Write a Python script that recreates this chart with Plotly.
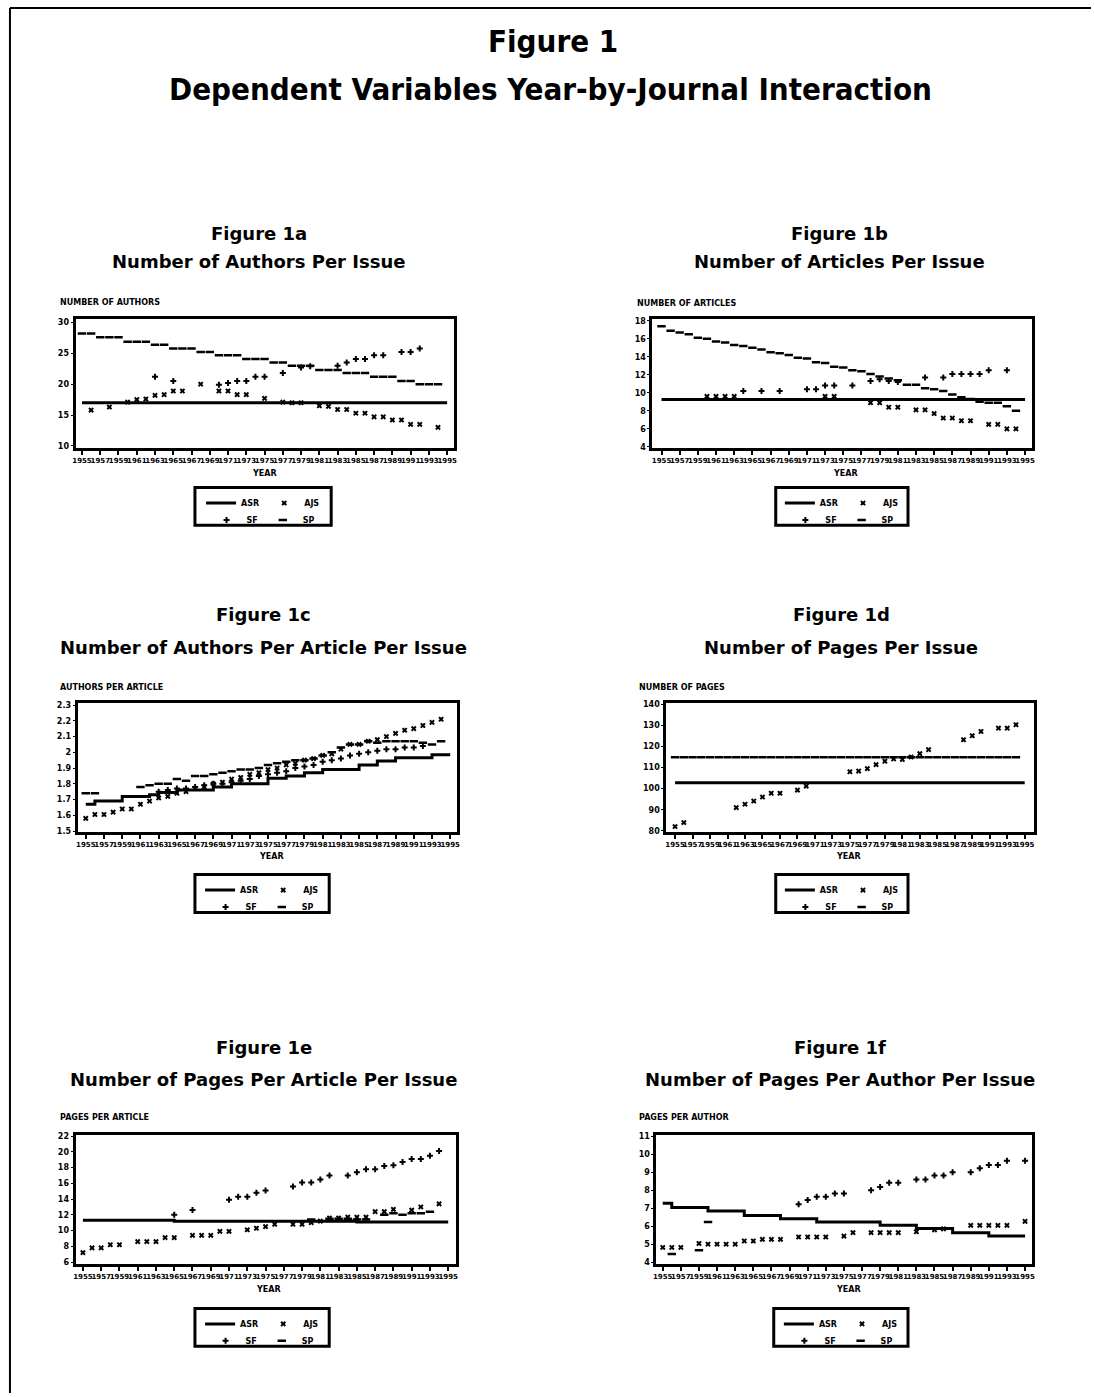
import plotly.graph_objects as go

# ---------------- data ----------------
N = None
YEARS = list(range(1955, 1996))
X_TICKS = list(range(1955, 1996, 2))
X_TICK_TEXT = [str(v) for v in X_TICKS]
JOURNALS = ["ASR", "AJS", "SF", "SP"]

FIG_TITLE = "Figure 1"
FIG_SUBTITLE = "Dependent Variables Year-by-Journal Interaction"
PANEL_LABELS = ["Figure 1a", "Figure 1b", "Figure 1c", "Figure 1d", "Figure 1e", "Figure 1f"]
PANEL_TITLES = ["Number of Authors Per Issue", "Number of Articles Per Issue",
                "Number of Authors Per Article Per Issue", "Number of Pages Per Issue",
                "Number of Pages Per Article Per Issue", "Number of Pages Per Author Per Issue"]
Y_LABELS = ["NUMBER OF AUTHORS", "NUMBER OF ARTICLES", "AUTHORS PER ARTICLE",
            "NUMBER OF PAGES", "PAGES PER ARTICLE", "PAGES PER AUTHOR"]
X_LABEL = "YEAR"

Y_TICKS_A = [10, 15, 20, 25, 30]
Y_TICKS_B = [4, 6, 8, 10, 12, 14, 16, 18]
Y_TICKS_C = [1.5, 1.6, 1.7, 1.8, 1.9, 2.0, 2.1, 2.2, 2.3]
Y_TICKS_D = [80, 90, 100, 110, 120, 130, 140]
Y_TICKS_E = [6, 8, 10, 12, 14, 16, 18, 20, 22]
Y_TICKS_F = [4, 5, 6, 7, 8, 9, 10, 11]

# Figure 1a - authors per issue (1955..1995)
A_J1 = [17.0, 17.0, 17.0, 17.0, 17.0, 17.0, 17.0, 17.0, 17.0, 17.0,
        17.0, 17.0, 17.0, 17.0, 17.0, 17.0, 17.0, 17.0, 17.0, 17.0,
        17.0, 17.0, 17.0, 17.0, 17.0, 17.0, 17.0, 17.0, 17.0, 17.0,
        17.0, 17.0, 17.0, 17.0, 17.0, 17.0, 17.0, 17.0, 17.0, 17.0, 17.0]
A_J2 = [N, 15.8, N, 16.3, N, 17.1, 17.5, 17.6, 18.2, 18.3,
        18.9, 18.9, N, 20.0, N, 18.9, 18.9, 18.3, 18.3, N,
        17.7, N, 17.1, 17.0, 17.0, N, 16.5, 16.4, 15.9, 15.9,
        15.3, 15.3, 14.7, 14.7, 14.2, 14.2, 13.5, 13.5, N, 13.0, N]
A_J3 = [N, N, N, N, N, N, N, N, 21.2, N,
        20.5, N, N, N, N, 19.9, 20.2, 20.5, 20.5, 21.2,
        21.2, N, 21.8, N, 22.7, 22.9, N, N, 23.0, 23.5,
        24.1, 24.1, 24.7, 24.7, N, 25.2, 25.2, 25.8, N, N, N]
A_J4 = [28.2, 28.2, 27.6, 27.6, 27.6, 26.9, 26.9, 26.9, 26.4, 26.4,
        25.8, 25.8, 25.8, 25.2, 25.2, 24.7, 24.7, 24.7, 24.1, 24.1,
        24.1, 23.5, 23.5, 23.0, 23.0, 23.0, 22.3, 22.3, 22.3, 21.8,
        21.8, 21.8, 21.2, 21.2, 21.2, 20.5, 20.5, 20.0, 20.0, 20.0, N]

# Figure 1b - articles per issue
B_J1 = [9.25, 9.25, 9.25, 9.25, 9.25, 9.25, 9.25, 9.25, 9.25, 9.25,
        9.25, 9.25, 9.25, 9.25, 9.25, 9.25, 9.25, 9.25, 9.25, 9.25,
        9.25, 9.25, 9.25, 9.25, 9.25, 9.25, 9.25, 9.25, 9.25, 9.25,
        9.25, 9.25, 9.25, 9.25, 9.25, 9.25, 9.25, 9.25, 9.25, 9.25, 9.25]
B_J2 = [N, N, N, N, N, 9.6, 9.6, 9.6, 9.6, N,
        N, N, N, N, N, N, N, N, 9.6, 9.6,
        N, N, N, 8.9, 8.9, 8.4, 8.4, N, 8.1, 8.1,
        7.7, 7.2, 7.2, 6.9, 6.9, N, 6.5, 6.5, 6.0, 6.0, N]
B_J3 = [N, N, N, N, N, N, N, N, N, 10.2,
        N, 10.2, N, 10.2, N, N, 10.4, 10.4, 10.8, 10.8,
        N, 10.8, N, 11.3, 11.5, 11.3, 11.2, N, N, 11.7,
        N, 11.7, 12.1, 12.1, 12.1, 12.1, 12.5, N, 12.5, N, N]
B_J4 = [17.4, 16.9, 16.7, 16.5, 16.1, 16.0, 15.7, 15.6, 15.3, 15.2,
        15.0, 14.8, 14.5, 14.4, 14.2, 13.9, 13.8, 13.4, 13.3, 12.9,
        12.8, 12.5, 12.4, 12.1, 11.8, 11.6, 11.4, 10.9, 10.9, 10.5,
        10.4, 10.2, 9.8, 9.5, 9.3, 9.0, 8.9, 8.9, 8.5, 8.0, N]

# Figure 1c - authors per article per issue
C_J1 = [1.67, 1.69, 1.69, 1.69, 1.72, 1.72, 1.72, 1.73, 1.745, 1.745,
        1.76, 1.76, 1.76, 1.76, 1.78, 1.78, 1.80, 1.80, 1.80, 1.80,
        1.835, 1.835, 1.85, 1.85, 1.87, 1.87, 1.89, 1.89, 1.89, 1.89,
        1.92, 1.92, 1.945, 1.945, 1.965, 1.965, 1.965, 1.965, 1.985, 1.985, 1.985]
C_J2 = [1.58, 1.605, 1.605, 1.62, 1.64, 1.64, 1.67, 1.69, 1.71, 1.72,
        1.74, 1.75, 1.77, 1.78, 1.80, 1.81, 1.83, 1.84, 1.86, 1.87,
        1.89, 1.90, 1.92, 1.93, 1.95, 1.96, 1.98, 1.99, 2.02, 2.05,
        2.05, 2.07, 2.08, 2.10, 2.12, 2.14, 2.15, 2.17, 2.19, 2.21, N]
C_J3 = [N, N, N, N, N, N, N, N, 1.75, 1.76,
        1.77, 1.77, 1.78, 1.79, 1.80, 1.80, 1.81, 1.82, 1.83, 1.85,
        1.86, 1.87, 1.88, 1.90, 1.91, 1.92, 1.94, 1.95, 1.96, 1.98,
        1.99, 2.00, 2.01, 2.02, 2.02, 2.03, 2.03, 2.04, N, N, N]
C_J4 = [1.74, 1.74, N, N, N, N, 1.78, 1.79, 1.80, 1.80,
        1.83, 1.82, 1.85, 1.85, 1.86, 1.87, 1.88, 1.89, 1.89, 1.90,
        1.92, 1.93, 1.94, 1.95, 1.95, 1.96, 1.98, 2.00, 2.03, 2.05,
        2.05, 2.07, 2.06, 2.07, 2.07, 2.07, 2.07, 2.06, 2.05, 2.07, N]

# Figure 1d - pages per issue
D_J1 = [102.8, 102.8, 102.8, 102.8, 102.8, 102.8, 102.8, 102.8, 102.8, 102.8,
        102.8, 102.8, 102.8, 102.8, 102.8, 102.8, 102.8, 102.8, 102.8, 102.8,
        102.8, 102.8, 102.8, 102.8, 102.8, 102.8, 102.8, 102.8, 102.8, 102.8,
        102.8, 102.8, 102.8, 102.8, 102.8, 102.8, 102.8, 102.8, 102.8, 102.8, 102.8]
D_J2 = [82.0, 83.9, N, N, N, N, N, 91.0, 92.6, 94.1,
        96.0, 97.8, 97.8, N, 99.3, 101.2, N, N, N, N,
        108.0, 108.3, 109.5, 111.4, 113.0, 114.1, 113.8, 115.0, 116.6, 118.5,
        N, N, N, 123.2, 125.1, 127.1, N, 128.7, 128.7, 130.3, N]
D_J3 = [N, N, N, N, N, N, N, N, N, N,
        N, N, N, N, N, N, N, N, N, N,
        N, N, N, N, N, N, N, N, N, N,
        N, N, N, N, N, N, N, N, N, N, N]
D_J4 = [114.9, 114.9, 114.9, 114.9, 114.9, 114.9, 114.9, 114.9, 114.9, 114.9,
        114.9, 114.9, 114.9, 114.9, 114.9, 114.9, 114.9, 114.9, 114.9, 114.9,
        114.9, 114.9, 114.9, 114.9, 114.9, 114.9, 114.9, 114.9, 114.9, 114.9,
        114.9, 114.9, 114.9, 114.9, 114.9, 114.9, 114.9, 114.9, 114.9, 114.9, N]

# Figure 1e - pages per article per issue
E_J1 = [11.3, 11.3, 11.3, 11.3, 11.3, 11.3, 11.3, 11.3, 11.3, 11.3,
        11.2, 11.2, 11.2, 11.2, 11.2, 11.2, 11.2, 11.2, 11.2, 11.2,
        11.2, 11.2, 11.2, 11.2, 11.2, 11.2, 11.2, 11.2, 11.2, 11.2,
        11.1, 11.1, 11.1, 11.1, 11.1, 11.1, 11.1, 11.1, 11.1, 11.1, 11.1]
E_J2 = [7.2, 7.8, 7.8, 8.2, 8.2, N, 8.6, 8.6, 8.6, 9.1,
        9.1, N, 9.4, 9.4, 9.4, 9.9, 9.9, N, 10.1, 10.3,
        10.5, 10.8, N, 10.8, 10.8, 11.0, 11.2, 11.6, 11.6, 11.7,
        11.7, 11.7, 12.4, 12.4, 12.7, N, 12.6, 13.0, N, 13.4, N]
E_J3 = [N, N, N, N, N, N, N, N, N, N,
        12.0, N, 12.6, N, N, N, 13.9, 14.3, 14.3, 14.8,
        15.1, N, N, 15.6, 16.1, 16.1, 16.5, 17.0, N, 17.0,
        17.4, 17.8, 17.8, 18.2, 18.3, 18.7, 19.1, 19.1, 19.5, 20.1, N]
E_J4 = [N, N, N, N, N, N, N, N, N, N,
        N, N, N, N, N, N, N, N, N, N,
        N, N, N, N, N, 11.4, N, 11.5, 11.5, 11.5,
        11.4, 11.4, N, 12.0, 12.2, 12.0, 12.2, 12.2, 12.4, N, N]

# Figure 1f - pages per author per issue
F_J1 = [7.27, 7.04, 7.04, 7.04, 7.04, 6.85, 6.85, 6.85, 6.85, 6.6,
        6.6, 6.6, 6.6, 6.42, 6.42, 6.42, 6.42, 6.24, 6.24, 6.24,
        6.24, 6.24, 6.24, 6.24, 6.05, 6.05, 6.05, 6.05, 5.87, 5.87,
        5.87, 5.87, 5.64, 5.64, 5.64, 5.64, 5.45, 5.45, 5.45, 5.45, 5.45]
F_J2 = [4.82, 4.82, 4.82, N, 5.04, 5.0, 5.0, 5.0, 5.0, 5.18,
        5.18, 5.27, 5.27, 5.27, N, 5.4, 5.4, 5.4, 5.4, N,
        5.45, 5.64, N, 5.64, 5.64, 5.64, 5.64, N, 5.69, N,
        5.8, 5.85, N, N, 6.05, 6.05, 6.05, 6.05, 6.05, N, 6.27]
F_J3 = [N, N, N, N, N, N, N, N, N, N,
        N, N, N, N, N, 7.22, 7.45, 7.64, 7.64, 7.82,
        7.82, N, N, 8.0, 8.18, 8.42, 8.42, N, 8.6, 8.6,
        8.82, 8.82, 9.0, N, 9.0, 9.22, 9.4, 9.4, 9.64, N, 9.64]
F_J4 = [N, 4.45, N, N, 4.67, 6.24, N, N, N, N,
        N, N, N, N, N, N, N, N, N, N,
        N, N, N, N, N, N, N, N, N, N,
        N, N, N, N, N, N, N, N, N, N, N]

SERIES = [[A_J1, A_J2, A_J3, A_J4], [B_J1, B_J2, B_J3, B_J4], [C_J1, C_J2, C_J3, C_J4],
          [D_J1, D_J2, D_J3, D_J4], [E_J1, E_J2, E_J3, E_J4], [F_J1, F_J2, F_J3, F_J4]]
Y_TICKS = [Y_TICKS_A, Y_TICKS_B, Y_TICKS_C, Y_TICKS_D, Y_TICKS_E, Y_TICKS_F]
for grp in SERIES:
    for s in grp:
        assert len(s) == len(YEARS)

# ---------------- layout helpers ----------------
W, H = 1094, 1397
def fx(x):
    return x / W
def fy(y):
    return 1 - y / H

FONT = "DejaVu Sans"
HEAVY = "DejaVu Sans Condensed, Liberation Sans Narrow, DejaVu Sans"

# pixel geometry per panel: plot box (x0, y0, x1, y1)
BOXES = [(73, 318, 453, 447), (653, 318, 1035, 447),
         (75, 704, 457, 833), (667, 704, 1037, 833),
         (73, 1138, 455, 1267), (657, 1138, 1035, 1267)]
YRANGES = [(9.7, 30.5), (3.9, 18.15), (1.495, 2.31), (79.5, 140.4), (5.8, 22.1), (3.92, 11.05)]
XRANGES = [(1954.3, 1995.7), (1954.0, 1995.8), (1954.1, 1995.8),
           (1954.0, 1996.1), (1954.2, 1995.8), (1954.3, 1995.8)]
TITLE_CX = [257, 841, 262, 843, 262, 842]
TITLE_Y = [(232, 260), (232, 260), (615, 648), (615, 648), (1050, 1082), (1050, 1082)]
YLAB_POS = [(55, 301), (635, 302), (55, 688), (637, 688), (55, 1120), (637, 1120)]
XLAB_POS = [(263, 473), (847, 473), (270, 858), (850, 858), (267, 1293), (850, 1293)]
LEG_BOX = [(193, 487, 330, 525), (777, 487, 910, 525),
           (193, 876, 328, 914), (777, 876, 910, 914),
           (193, 1312, 328, 1350), (775, 1312, 910, 1350)]

fig = go.Figure()
layout = dict(width=W, height=H, autosize=False, margin=dict(l=0, r=0, t=0, b=0),
              paper_bgcolor="white", plot_bgcolor="white", showlegend=True)
annotations = []
shapes = []

styles = [
    dict(mode="lines", line=dict(color="black", width=3, shape="hv")),
    dict(mode="markers", marker=dict(symbol="x", size=5, color="black", line=dict(width=0))),
    dict(mode="markers", marker=dict(symbol="cross", size=5, color="black", line=dict(width=0))),
    dict(mode="markers", marker=dict(symbol="line-ew", size=6, color="black",
                                     line=dict(color="black", width=2.5))),
]

for i in range(6):
    k = i + 1
    xa = "x" if k == 1 else f"x{k}"
    ya = "y" if k == 1 else f"y{k}"
    leg1 = f"legend{2 + 2 * i}"
    leg2 = f"legend{3 + 2 * i}"
    for j in range(4):
        fig.add_trace(go.Scatter(x=YEARS, y=SERIES[i][j], name=JOURNALS[j],
                                 xaxis=xa, yaxis=ya, legend=leg1 if j < 2 else leg2,
                                 showlegend=True, connectgaps=False, hoverinfo="skip",
                                 **styles[j]))
    x0, y0, x1, y1 = BOXES[i]
    axis_common = dict(showline=True, mirror=True, linewidth=3, linecolor="black",
                       showgrid=False, zeroline=False)
    layout[f"xaxis{'' if k == 1 else k}"] = dict(
        domain=[fx(x0), fx(x1)], anchor=ya, range=list(XRANGES[i]),
        tickmode="array", tickvals=X_TICKS, ticktext=X_TICK_TEXT, tickangle=0,
        ticks="outside", ticklen=4, tickwidth=2, tickcolor="black",
        tickfont=dict(family=FONT, size=7, color="black", weight="bold"), **axis_common)
    ytv = Y_TICKS[i]
    layout[f"yaxis{'' if k == 1 else k}"] = dict(
        domain=[fy(y1), fy(y0)], anchor=xa, range=list(YRANGES[i]),
        tickmode="array", tickvals=ytv, ticktext=[f"{v:g}" for v in ytv],
        ticks="outside", ticklen=2, tickwidth=1, tickcolor="black",
        tickfont=dict(family=FONT, size=8, color="black", weight="bold"), **axis_common)

    # panel titles
    annotations.append(dict(text=PANEL_LABELS[i], x=fx(TITLE_CX[i]), y=fy(TITLE_Y[i][0]),
                            xref="paper", yref="paper", showarrow=False,
                            xanchor="center", yanchor="middle",
                            font=dict(family=FONT, size=18, color="black", weight="bold")))
    annotations.append(dict(text=PANEL_TITLES[i], x=fx(TITLE_CX[i]), y=fy(TITLE_Y[i][1]),
                            xref="paper", yref="paper", showarrow=False,
                            xanchor="center", yanchor="middle",
                            font=dict(family=FONT, size=18, color="black", weight="bold")))
    annotations.append(dict(text=Y_LABELS[i], x=fx(YLAB_POS[i][0]), y=fy(YLAB_POS[i][1]),
                            xref="paper", yref="paper", showarrow=False,
                            xanchor="left", yanchor="middle",
                            font=dict(family=FONT, size=8, color="black", weight="bold")))
    annotations.append(dict(text=X_LABEL, x=fx(XLAB_POS[i][0]), y=fy(XLAB_POS[i][1]),
                            xref="paper", yref="paper", showarrow=False,
                            xanchor="center", yanchor="middle",
                            font=dict(family=FONT, size=8, color="black", weight="bold")))
    # legends
    lx0, ly0, lx1, ly1 = LEG_BOX[i]
    shapes.append(dict(type="rect", xref="paper", yref="paper",
                       x0=fx(lx0), x1=fx(lx1), y0=fy(ly1), y1=fy(ly0),
                       line=dict(color="black", width=3)))
    leg_common = dict(orientation="h", bgcolor="rgba(0,0,0,0)", borderwidth=0,
                      font=dict(family=FONT, size=8, color="black", weight="bold"),
                      itemwidth=30, xanchor="center", yanchor="top",
                      x=fx((lx0 + lx1) / 2), itemclick=False, itemdoubleclick=False)
    layout[leg1] = dict(y=fy(ly0 + 1), **leg_common)
    layout[leg2] = dict(y=fy(ly0 + 18), **leg_common)

# main titles
annotations.append(dict(text=FIG_TITLE, x=fx(553), y=fy(38), xref="paper", yref="paper",
                        showarrow=False, xanchor="center", yanchor="middle",
                        font=dict(family=HEAVY, size=31, color="black", weight="bold")))
annotations.append(dict(text=FIG_SUBTITLE, x=fx(551), y=fy(86), xref="paper", yref="paper",
                        showarrow=False, xanchor="center", yanchor="middle",
                        font=dict(family=HEAVY, size=31, color="black", weight="bold")))
# page frame (left and top edges)
shapes.append(dict(type="line", xref="paper", yref="paper", x0=fx(7), x1=fx(7),
                   y0=fy(1397), y1=fy(5), line=dict(color="black", width=2)))
shapes.append(dict(type="line", xref="paper", yref="paper", x0=fx(7), x1=1,
                   y0=fy(5), y1=fy(5), line=dict(color="black", width=2)))

layout["annotations"] = annotations
layout["shapes"] = shapes
fig.update_layout(**layout)
fig.write_html("out.html", include_plotlyjs=True, config={"displayModeBar": False},
               post_script="document.body.style.margin='0px';"
                           "document.body.style.overflow='hidden';")
